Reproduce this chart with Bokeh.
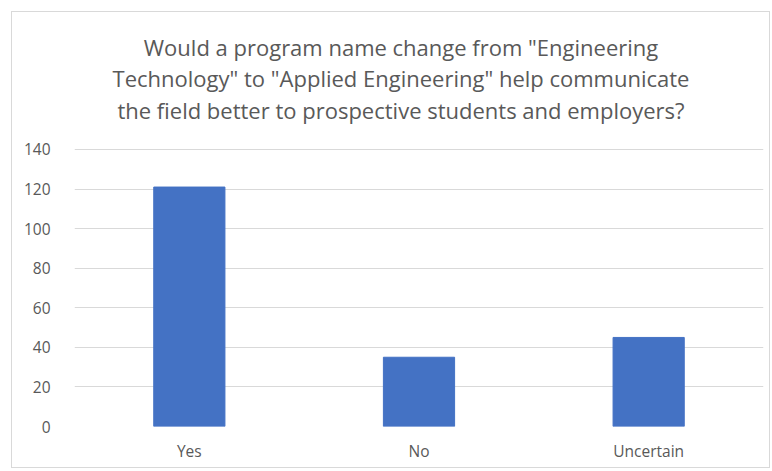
from bokeh.plotting import figure
from bokeh.models import Range1d, FixedTicker, Label
from bokeh.embed import file_html
from bokeh.resources import INLINE

categories = ["Yes", "No", "Uncertain"]
values = [121, 35, 45]
y_ticks = [0, 20, 40, 60, 80, 100, 120, 140]
title_lines = ['Would a program name change from "Engineering',
               'Technology" to "Applied Engineering" help communicate',
               'the field better to prospective students and employers?']

FONT = "Open Sans"
GRAY = "#595959"

# the frame extends up over the title area; ticks/grid stop at 140
p = figure(x_range=categories, y_range=Range1d(0, 208.2), width=759, height=457,
           output_backend="svg", toolbar_location=None,
           min_border_left=62, min_border_right=8, min_border_top=2,
           min_border_bottom=43, margin=(11, 0, 0, 11))
p.styles = {"border": "1px solid #d9d9d9"}

p.vbar(x=categories, top=values, width=0.31, color="#4472C4")

# title lines (x = 1.5 is the synthetic centre of the middle category)
title_y = [192.0, 176.3, 160.1]
for line, ty in zip(title_lines, title_y):
    p.add_layout(Label(x=1.5, y=ty, x_offset=-18, text=line, text_align="center",
                       text_baseline="alphabetic", text_font=FONT,
                       text_font_size="22px", text_color=GRAY))

p.outline_line_color = None
p.xgrid.grid_line_color = None
p.ygrid.grid_line_color = "#d9d9d9"
p.yaxis.ticker = FixedTicker(ticks=y_ticks)
p.yaxis.axis_line_color = None
p.yaxis.major_tick_line_color = None
p.yaxis.minor_tick_line_color = None
p.xaxis.axis_line_color = None
p.xaxis.major_tick_line_color = None
for ax in (p.xaxis, p.yaxis):
    ax.major_label_text_font = FONT
    ax.major_label_text_font_size = "15.5px"
    ax.major_label_text_color = GRAY
p.yaxis.major_label_standoff = 18
p.xaxis.major_label_standoff = 7

open("out.html", "w").write(file_html(p, INLINE))
